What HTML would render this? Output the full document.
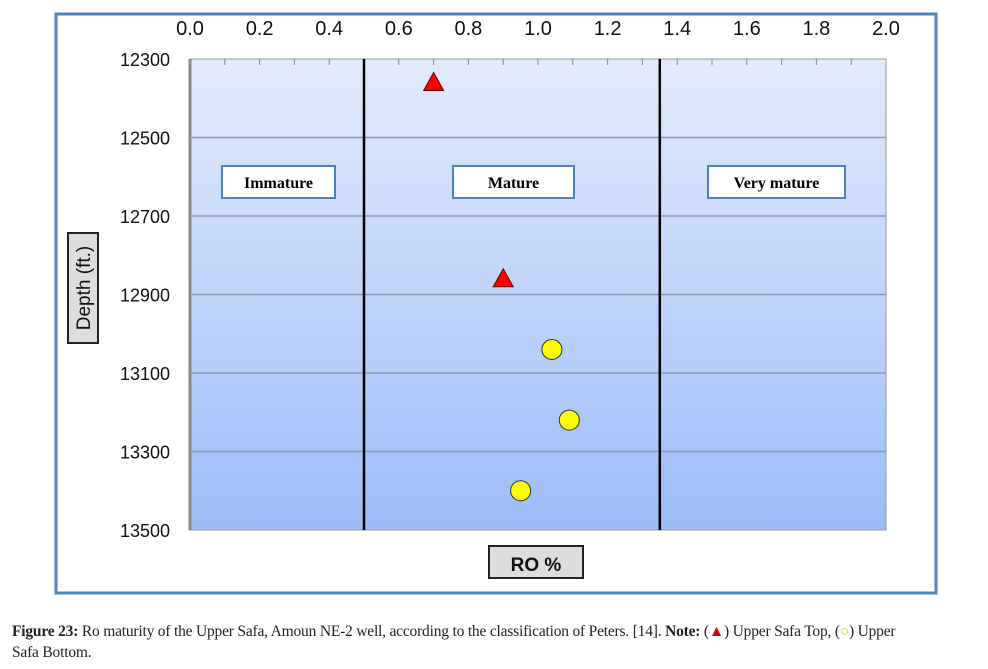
<!DOCTYPE html>
<html><head><meta charset="utf-8"><style>
body{margin:0;background:#fff;width:988px;height:669px;overflow:hidden;font-family:"Liberation Sans",sans-serif}
svg{position:absolute;left:0;top:0}
.cap{position:absolute;left:12px;top:621px;width:972px;font-family:"Liberation Serif",serif;font-size:15.5px;line-height:21px;color:#222;letter-spacing:-0.2px}
</style></head><body>
<svg width="988" height="669">
<defs><linearGradient id="bg" x1="0" y1="0" x2="0" y2="1"><stop offset="0" stop-color="#e2ebfc"/><stop offset="1" stop-color="#9cbcf6"/></linearGradient></defs>
<rect x="56" y="14" width="880" height="579" fill="#fff" stroke="#4f81bd" stroke-width="3"/>
<g id="g"></g>
</svg>
<div class="cap"><b>Figure 23:</b> Ro maturity of the Upper Safa, Amoun NE-2 well, according to the classification of Peters. [14]. <b>Note:</b> (<span style="color:#d00">▲</span>) Upper Safa Top, (<span style="color:#cc0">○</span>) Upper<br>Safa Bottom.</div>
<script>
const xTicks=[0,0.2,0.4,0.6,0.8,1.0,1.2,1.4,1.6,1.8,2.0];
const yTicks=[12300,12500,12700,12900,13100,13300,13500];
const topRo=[0.70,0.90];
const topDepth=[12360,12860];
const botRo=[1.04,1.09,0.95];
const botDepth=[13040,13220,13400];
const boundaries=[0.5,1.35];
const zones=["Immature","Mature","Very mature"];
const L=190,R=886,T=59,B=530;
const x=v=>L+(v-0)/(2-0)*(R-L);
const y=v=>T+(v-12300)/(13500-12300)*(B-T);
const g=document.getElementById('g');const NS='http://www.w3.org/2000/svg';
function mk(t,a,txt){const e=document.createElementNS(NS,t);for(const k in a)e.setAttribute(k,a[k]);if(txt!=null)e.textContent=txt;g.appendChild(e);return e;}
let e=mk('rect',{x:L,y:T,width:R-L,height:B-T,fill:'url(#bg)',stroke:'#999'});

mk('line',{x1:L,y1:T,x2:L,y2:B,stroke:'#888','stroke-width':3});
yTicks.forEach(v=>{
 if(v>12300&&v<13500){e=mk('line',{x1:L,x2:R,y1:y(v),y2:y(v),stroke:'#8c9aae','stroke-width':1.5});
 }
 e=mk('text',{x:L-20,y:y(v)+7,'text-anchor':'end','font-size':18,fill:'#111'},v);
 
});
for(let i=1;i<20;i++){mk('line',{x1:x(i*0.1),x2:x(i*0.1),y1:T,y2:T+6,stroke:'#888'});}
xTicks.forEach(v=>{
 e=mk('text',{x:x(v),y:35,'text-anchor':'middle','font-size':20,fill:'#111'},v.toFixed(1));
 
});
boundaries.forEach(v=>{e=mk('line',{x1:x(v),x2:x(v),y1:T,y2:B,stroke:'#000','stroke-width':2.5});
 });
const zc=[[222,335],[453,574],[708,845]];
zones.forEach((z,i)=>{
 e=mk('rect',{x:zc[i][0],y:166,width:zc[i][1]-zc[i][0],height:32,fill:'#fff',stroke:'#4f81bd','stroke-width':2});
 
 e=mk('text',{x:(zc[i][0]+zc[i][1])/2,y:188,'text-anchor':'middle','font-size':16,'font-weight':'bold','font-family':'Liberation Serif,serif'},z);
 
});
topRo.forEach((v,i)=>{const cx=x(v),cy=y(topDepth[i]);
 e=mk('polygon',{points:`${cx},${cy-10} ${cx+10},${cy+8} ${cx-10},${cy+8}`,fill:'#f00',stroke:'#600'});
 });
botRo.forEach((v,i)=>{
 e=mk('ellipse',{cx:x(v),cy:y(botDepth[i]),rx:10,ry:10,fill:'#ff0',stroke:'#333'});
 });
e=mk('rect',{x:68,y:233,width:30,height:110,fill:'#ddd',stroke:'#222','stroke-width':2});

e=mk('text',{x:0,y:0,transform:'translate(90,288) rotate(-90)','text-anchor':'middle','font-size':19,fill:'#111'},'Depth (ft.)');

e=mk('rect',{x:489,y:546,width:94,height:32,fill:'#ddd',stroke:'#222','stroke-width':2});

e=mk('text',{x:536,y:571,'text-anchor':'middle','font-size':19,'font-weight':'bold',fill:'#111'},'RO %');

</script>
</body></html>
